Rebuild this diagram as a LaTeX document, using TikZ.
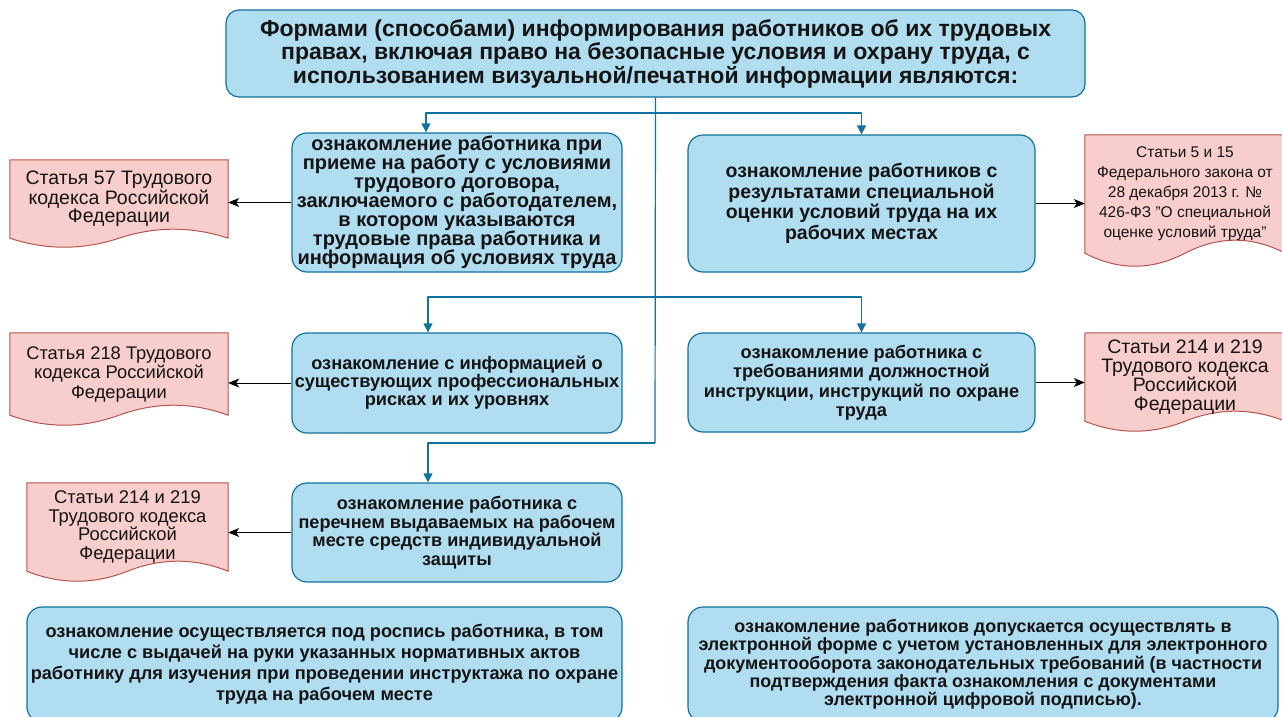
\documentclass[tikz,border=0pt]{standalone}
\usepackage{fontspec}
\setmainfont{Liberation Sans}
\usetikzlibrary{arrows.meta,calc,backgrounds}
\definecolor{boxfill}{HTML}{B1DDF0}
\definecolor{boxline}{HTML}{10739E}
\definecolor{docfill}{HTML}{F8CECC}
\definecolor{docline}{HTML}{B85450}
\definecolor{ink}{HTML}{141414}
\tikzset{
  box/.style={draw=boxline, fill=boxfill, line width=1.2pt, rounded corners=15pt,
    align=center, inner sep=0pt, text=ink},
  doc/.style={inner sep=0pt, align=center, text=ink},
  docedge/.style={draw=docline, fill=docfill, line width=1pt},
  flow/.style={draw=boxline, line width=1.2pt, -{Triangle[length=9pt,width=9pt]}},
  link/.style={draw=black, line width=1pt, ->},
}
\newcommand{\fs}[2]{\fontsize{#1}{#2}\selectfont}
%Document shape with a wavy bottom: node name, wave height.
\newcommand{\docwave}[2]{%
  \path[docedge] (#1.north west) -- (#1.north east) -- (#1.south east)
    .. controls ($(#1.south west)!5/6!(#1.south east)+(0,{#2*4/3*1pt})$)
    and ($(#1.south west)!2/3!(#1.south east)+(0,{#2*4/3*1pt})$) .. (#1.south)
    .. controls ($(#1.south west)!1/3!(#1.south east)-(0,{#2*4/3*1pt})$)
    and ($(#1.south west)!1/6!(#1.south east)-(0,{#2*4/3*1pt})$) .. (#1.south west)
    -- cycle;}
\begin{document}
\begin{tikzpicture}[x=1pt, y=-1pt, line join=round,
    >={Stealth[length=11pt,width=9pt,inset=3pt]}]
  %Page.
  \clip (0,0) rectangle (1282,716);
  %Top box.
  \node[box, rounded corners=13pt, minimum width=859, minimum height=87,
    font=\bfseries\fs{23}{23.5}] (forms) at (655.5,53.5)
    {Формами (способами) информирования работников об их трудовых\\
     правах, включая право на безопасные условия и охрану труда, с\\
     использованием визуальной/печатной информации являются:};
  %Blue boxes.
  \node[box, minimum width=330, minimum height=139, font=\bfseries\fs{20}{19}]
    (hire) at (457,202.5)
    {ознакомление работника при\\ приеме на работу с условиями\\ трудового договора,\\
     заключаемого с работодателем,\\ в котором указываются\\
     трудовые права работника и\\ информация об условиях труда};
  \node[box, minimum width=347, minimum height=137, font=\bfseries\fs{19.5}{20.7}]
    (sout) at (861.5,203.5)
    {ознакомление работников с\\ результатами специальной\\
     оценки условий труда на их\\ рабочих местах};
  \node[box, minimum width=330, minimum height=100, font=\bfseries\fs{18.2}{18}]
    (risks) at (457,383)
    {ознакомление с информацией о\\ существующих профессиональных\\ рисках и их уровнях};
  \node[box, minimum width=347, minimum height=99, font=\bfseries\fs{18.2}{19.5}]
    (instr) at (861.5,382.5)
    {ознакомление работника с\\ требованиями должностной\\
     инструкции, инструкций по охране\\ труда};
  \node[box, minimum width=330, minimum height=99, font=\bfseries\fs{18.1}{18.5}]
    (siz) at (457,532.5)
    {ознакомление работника с\\ перечнем выдаваемых на рабочем\\
     месте средств индивидуальной\\ защиты};
  \node[box, minimum width=595, minimum height=115, font=\bfseries\fs{18.2}{21}]
    (sign) at (324.5,664.5)
    {ознакомление осуществляется под роспись работника, в том\\
     числе с выдачей на руки указанных нормативных актов\\
     работнику для изучения при проведении инструктажа по охране\\
     труда на рабочем месте};
  \node[box, minimum width=590, minimum height=115, font=\bfseries\fs{17.9}{18.3}]
    (edo) at (983,664.5)
    {ознакомление работников допускается осуществлять в\\
     электронной форме с учетом установленных для электронного\\
     документооборота законодательных требований (в частности\\
     подтверждения факта ознакомления с документами\\
     электронной цифровой подписью).};
  %Documents.
  \node[doc, minimum width=218, minimum height=78, font=\fs{19.5}{18.5}] (tk57) at (119,199)
    {Статья 57 Трудового\\ кодекса Российской\\ Федерации};
  \node[doc, minimum width=200, minimum height=118, font=\fs{15.5}{20}] (fz426) at (1185,194)
    {Статьи 5 и 15\\ Федерального закона от\\ 28 декабря 2013 г. №\\
     426-ФЗ "О специальной\\ оценке условий труда"};
  \node[doc, minimum width=218, minimum height=82, font=\fs{18.3}{19.5}] (tk218) at (119,374)
    {Статья 218 Трудового\\ кодекса Российской\\ Федерации};
  \node[doc, minimum width=200, minimum height=88, font=\fs{19.5}{19}] (tk214a) at (1185,377)
    {Статьи 214 и 219\\ Трудового кодекса\\ Российской\\ Федерации};
  \node[doc, minimum width=201, minimum height=88, font=\fs{18.4}{18.5}] (tk214b) at (127.5,527)
    {Статьи 214 и 219\\ Трудового кодекса\\ Российской\\ Федерации};
  \begin{scope}[on background layer]
    \fill[white] (0,0) rectangle (1282,716);
    \docwave{tk57}{9}
    \docwave{fz426}{13}
    \docwave{tk218}{10}
    \docwave{tk214a}{10}
    \docwave{tk214b}{10}
  \end{scope}
  %Trunk and branches.
  \coordinate (b1) at (655,113);
  \coordinate (b2) at (655,297);
  \coordinate (b3) at (655,443);
  \draw[draw=boxline, line width=1.2pt] (forms.south) -- (b3);
  \draw[flow] (b1) -| ([xshift=-31pt]hire.north);
  \draw[flow] (b1) -| (sout.north);
  \draw[flow] (b2) -| ([xshift=-29pt]risks.north);
  \draw[flow] (b2) -| (instr.north);
  \draw[flow] (b3) -| ([xshift=-29pt]siz.north);
  %Links to documents.
  \draw[link] (hire.west) -- (hire.west -| tk57.east);
  \draw[link] (sout.east) -- (sout.east -| fz426.west);
  \draw[link] (risks.west) -- (risks.west -| tk218.east);
  \draw[link] (instr.east) -- (instr.east -| tk214a.west);
  \draw[link] (siz.west) -- (siz.west -| tk214b.east);
\end{tikzpicture}
\end{document}
